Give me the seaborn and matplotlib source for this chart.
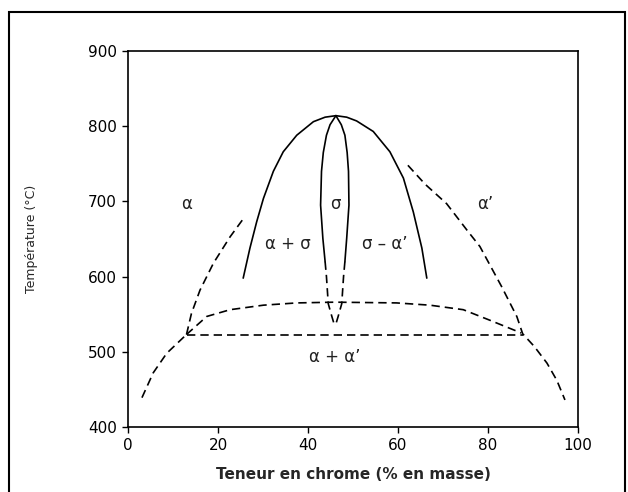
import matplotlib
matplotlib.use("Agg")
import matplotlib.pyplot as plt
import seaborn as sns
from matplotlib.patches import Rectangle

# --- data (x = % Cr mass, T = °C) ---
# sigma dome, outer boundaries (solid)
dome_x = [25.6, 27.1, 28.6, 30.1, 32.3, 34.5, 37.5, 41.2, 43.8, 46.2,
          48.6, 50.8, 54.5, 58.2, 61.2, 63.4, 65.3, 66.4]
dome_T = [598, 638, 673, 704, 740, 766, 788, 806, 812, 814,
          812, 807, 793, 766, 731, 686, 638, 598]
# sigma single-phase boundaries (solid part)
sig_left_x = [46.2, 44.9, 44.1, 43.4, 43.0, 42.8, 43.3, 43.8]
sig_left_T = [814, 802, 788, 765, 740, 695, 651, 620]
sig_right_x = [46.2, 47.4, 48.2, 48.7, 49.0, 49.1, 48.6, 48.2]
sig_right_T = [814, 802, 788, 765, 740, 695, 651, 620]
# sigma single-phase boundaries (dashed extension)
sig_left_d_x = [43.8, 44.1, 44.5, 45.3, 46.0]
sig_left_d_T = [620, 600, 564, 547, 533]
sig_right_d_x = [48.2, 47.9, 47.5, 46.7, 46.0]
sig_right_d_T = [620, 600, 564, 547, 533]
# alpha boundary (left, dashed)
a_left_x = [13.0, 14.1, 16.0, 19.0, 22.7, 26.0]
a_left_T = [523, 551, 582, 618, 653, 680]
# miscibility gap, lower-left branch
gap_left_x = [3.1, 5.6, 8.6, 13.0]
gap_left_T = [439, 472, 498, 523]
# alpha' boundary (right), continuous down to the bottom
a_right_x = [62.2, 66.0, 70.8, 75.3, 78.2, 83.0, 86.4, 87.7, 90.3, 93.1, 95.3, 97.1]
a_right_T = [748, 723, 697, 662, 640, 587, 547, 524, 507, 485, 462, 436]
# upper dashed dome
top_x = [13.0, 17.5, 22.7, 30.1, 37.5, 46.0, 59.7, 67.1, 74.5, 80.4, 87.4]
top_T = [523, 547, 556, 562, 565, 566, 565, 562, 556, 542, 525]
# horizontal dashed line
hor_x = [13.0, 87.7]
hor_T = [522, 522]

x_ticks = [0, 20, 40, 60, 80, 100]
y_ticks = [400, 500, 600, 700, 800, 900]

region_labels = ["α", "σ", "α’", "α + σ", "σ – α’", "α + α’"]
region_x = [13.0, 46.0, 79.3, 35.6, 57.1, 46.0]
region_T = [697, 697, 697, 643, 643, 493]

sns.set_style("ticks")
plt.rcParams["font.family"] = ["DejaVu Sans"]

fig = plt.figure(figsize=(6.28, 4.92), dpi=100)
ax = fig.add_axes([128 / 628, 1 - 427 / 492, 450 / 628, 376 / 492])

dash = (0, (5, 3))
lw = 1.2
for xs, ts, ls in [
    (dome_x, dome_T, "-"),
    (sig_left_x, sig_left_T, "-"),
    (sig_right_x, sig_right_T, "-"),
    (sig_left_d_x, sig_left_d_T, dash),
    (sig_right_d_x, sig_right_d_T, dash),
    (a_left_x, a_left_T, dash),
    (gap_left_x, gap_left_T, dash),
    (a_right_x, a_right_T, dash),
    (top_x, top_T, dash),
    (hor_x, hor_T, dash),
]:
    sns.lineplot(x=xs, y=ts, sort=False, estimator=None, color="black",
                 linewidth=lw, linestyle=ls, ax=ax)

for lab, xx, tt in zip(region_labels, region_x, region_T):
    ax.text(xx, tt, lab, ha="center", va="center", fontsize=12, color="#222222")

ax.set_xlim(0, 100)
ax.set_ylim(400, 900)
ax.set_xticks(x_ticks)
ax.set_yticks(y_ticks)
ax.tick_params(direction="out", length=4, width=1, labelsize=11, pad=4, colors="black")
for s in ax.spines.values():
    s.set_visible(True)
    s.set_linewidth(1.2)
    s.set_color("black")

ax.set_xlabel("Teneur en chrome (% en masse)", fontsize=11, fontweight="bold", labelpad=10)
ax.set_ylabel("Température (°C)", fontsize=9)
ax.yaxis.set_label_coords(-0.2, 0.5)

# outer frame of the scanned figure
fig.patches.append(Rectangle((0.014, -0.02), 0.982, 0.996, transform=fig.transFigure,
                             fill=False, edgecolor="black", linewidth=1.5))

fig.savefig("out.png", dpi=100)
